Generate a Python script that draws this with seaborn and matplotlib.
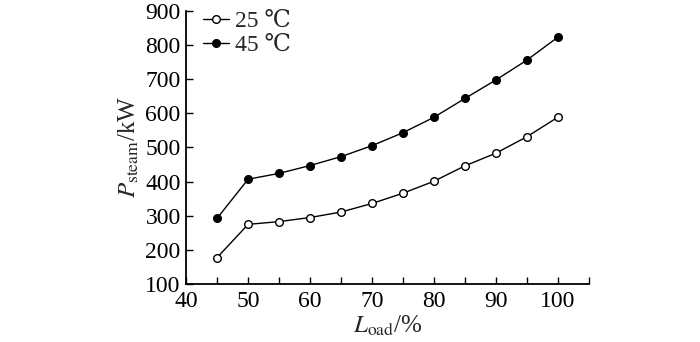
import matplotlib
matplotlib.use("Agg")
import matplotlib.pyplot as plt
import seaborn as sns
import pandas as pd
from matplotlib.ticker import MultipleLocator

load = [45, 50, 55, 60, 65, 70, 75, 80, 85, 90, 95, 100]
steam_25 = [178, 275, 283, 295, 311, 336, 366, 401, 446, 483, 531, 588]
steam_45 = [293, 407, 424, 447, 473, 505, 543, 588, 643, 697, 755, 822]
series_labels = ["25 ℃", "45 ℃"]

df = pd.concat([
    pd.DataFrame({"load": load, "steam": steam_25, "case": series_labels[0]}),
    pd.DataFrame({"load": load, "steam": steam_45, "case": series_labels[1]}),
])

sns.set_theme(style="ticks")
plt.rcParams["font.family"] = ["Liberation Serif", "DejaVu Serif", "DejaVu Sans"]
plt.rcParams["mathtext.fontset"] = "stix"

fig = plt.figure(figsize=(7, 3.42), dpi=100)
ax = fig.add_axes([0.266, 0.169, 0.575, 0.80])

for lab, face in zip(series_labels, ["white", "black"]):
    sns.lineplot(data=df[df["case"] == lab], x="load", y="steam", ax=ax,
                 color="black", linewidth=1.0, marker="o", markersize=5.5,
                 markerfacecolor=face, markeredgecolor="black",
                 markeredgewidth=1.0, label=lab)

ax.set_xlim(40, 105)
ax.set_ylim(100, 900)
ax.xaxis.set_minor_locator(MultipleLocator(5))
ax.yaxis.set_major_locator(MultipleLocator(100))
ax.set_xticks([40, 50, 60, 70, 80, 90, 100])
ax.tick_params(axis="both", which="both", direction="in", labelsize=17,
               width=1.0, colors="black")
ax.tick_params(axis="y", pad=4)
ax.tick_params(axis="x", pad=5)
ax.tick_params(which="major", length=5)
ax.tick_params(which="minor", length=5)
for s in ["top", "right"]:
    ax.spines[s].set_visible(False)
for s in ["left", "bottom"]:
    ax.spines[s].set_linewidth(1.3)
    ax.spines[s].set_color("black")

ax.set_xlabel(r"$L_{\mathrm{oad}}$/%", fontsize=18, labelpad=1)
ax.set_ylabel(r"$P_{\mathrm{steam}}$/kW", fontsize=18, labelpad=3)

leg = ax.legend(loc="upper left", bbox_to_anchor=(0.0, 1.06), frameon=False,
                fontsize=17, handlelength=1.1, handletextpad=0.25,
                labelspacing=0.1, borderaxespad=0.3)

fig.savefig("out.png", dpi=100)
